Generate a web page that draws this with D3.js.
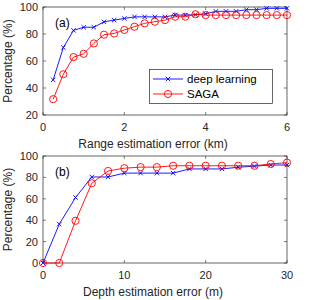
<!DOCTYPE html>
<html>
	<head>
		<meta charset="utf-8">
		<title>Range and depth estimation error</title>
	</head>
	<body>
		<svg id="chart" width="320" height="300"></svg>
	</body>

	<script src="https://d3js.org/d3.v7.min.js"></script>
	<script>
		// panel (a): range estimation error
		const rangeX = [0.25, 0.5, 0.75, 1, 1.25, 1.5, 1.75, 2, 2.25, 2.5, 2.75, 3,
			3.25, 3.5, 3.75, 4, 4.25, 4.5, 4.75, 5, 5.25, 5.5, 5.75, 6];
		const rangeDeep = [46, 70, 82.7, 85, 85, 89, 90.3, 91.5, 92.7, 92.7, 92.7, 92.7,
			94, 94, 94.3, 95, 96.8, 96.8, 96.8, 98, 98, 99, 99, 99];
		const rangeSaga = [31.7, 50.2, 62.9, 65.3, 73, 79.5, 80.4, 83, 85.4, 87.9, 89.1, 90.3,
			92.8, 92.8, 94.6, 94, 94, 94, 94, 94, 94, 94, 94, 94];

		// panel (b): depth estimation error
		const depthX = [0, 2, 4, 6, 8, 10, 12, 14, 16, 18, 20, 22, 24, 26, 28, 30];
		const depthDeep = [0, 36.3, 61.2, 80.4, 80.4, 84, 84, 84, 84, 87.9, 87.9, 87.9, 89.5, 90.5, 91.6, 91.6];
		const depthSaga = [0, 0, 39.4, 74.5, 86, 88.6, 89.6, 89.6, 90.9, 90.9, 90.9, 90.9, 90.9, 90.9, 92.5, 93.8];

		const seriesNames = ["deep learning", "SAGA"];
		const colors = ["#0000ff", "#ff0000"];

		const svg = d3.select("#chart");
		const font = "'Liberation Sans', Arial, sans-serif";

		function drawPanel(opts)
		{
			const x = d3.scaleLinear().domain(opts.xDomain).range([43, 287]);
			const y = d3.scaleLinear().domain(opts.yDomain).range([opts.bottom, opts.top]);
			const g = svg.append("g");

			// ticks (inward, on all four sides)
			const tickLen = 3;
			opts.xTicks.forEach(t => {
				g.append("line").attr("x1", x(t)).attr("x2", x(t))
					.attr("y1", opts.bottom).attr("y2", opts.bottom - tickLen)
					.attr("stroke", "#262626").attr("stroke-width", 0.6);
				g.append("line").attr("x1", x(t)).attr("x2", x(t))
					.attr("y1", opts.top).attr("y2", opts.top + tickLen)
					.attr("stroke", "#262626").attr("stroke-width", 0.6);
				g.append("text").attr("x", x(t)).attr("y", opts.bottom + 16)
					.attr("text-anchor", "middle")
					.attr("font-family", font).attr("font-size", 11)
					.attr("fill", "#262626").text(t);
			});
			opts.yTicks.forEach(t => {
				g.append("line").attr("x1", 43).attr("x2", 43 + tickLen)
					.attr("y1", y(t)).attr("y2", y(t))
					.attr("stroke", "#262626").attr("stroke-width", 0.6);
				g.append("line").attr("x1", 287).attr("x2", 287 - tickLen)
					.attr("y1", y(t)).attr("y2", y(t))
					.attr("stroke", "#262626").attr("stroke-width", 0.6);
				g.append("text").attr("x", 38).attr("y", y(t) + 4)
					.attr("text-anchor", "end")
					.attr("font-family", font).attr("font-size", 11)
					.attr("fill", "#262626").text(t);
			});

			g.append("rect")
				.attr("x", 43).attr("y", opts.top)
				.attr("width", 244).attr("height", opts.bottom - opts.top)
				.attr("fill", "none").attr("stroke", "#262626").attr("stroke-width", 0.7);

			// series
			const line = d3.line().x(d => x(d[0])).y(d => y(d[1]));
			opts.series.forEach((vals, i) => {
				const pts = opts.xs.map((v, j) => [v, vals[j]]);
				g.append("path").datum(pts)
					.attr("d", line)
					.attr("fill", "none")
					.attr("stroke", colors[i]).attr("stroke-width", 0.9);
				pts.forEach(p => drawMarker(g, i, x(p[0]), y(p[1])));
			});

			// panel label
			g.append("text").attr("x", 55).attr("y", opts.top + 20)
				.attr("font-family", font).attr("font-size", 12)
				.attr("fill", "#000").text(opts.label);

			// axis titles
			g.append("text").attr("x", 153).attr("y", opts.bottom + 33)
				.attr("text-anchor", "middle")
				.attr("font-family", font).attr("font-size", 12)
				.attr("fill", "#262626").text(opts.xTitle);
			g.append("text")
				.attr("transform", `translate(12, ${(opts.top + opts.bottom) / 2}) rotate(-90)`)
				.attr("text-anchor", "middle")
				.attr("font-family", font).attr("font-size", 12)
				.attr("fill", "#262626").text("Percentage (%)");

			return g;
		}

		function drawMarker(g, i, cx, cy)
		{
			if (i === 0)
			{
				const s = 2.2;
				g.append("path")
					.attr("d", `M${cx - s},${cy - s}L${cx + s},${cy + s}M${cx - s},${cy + s}L${cx + s},${cy - s}`)
					.attr("stroke", colors[0]).attr("stroke-width", 0.9);
			}
			else
			{
				g.append("circle").attr("cx", cx).attr("cy", cy).attr("r", 3.6)
					.attr("fill", "none")
					.attr("stroke", colors[1]).attr("stroke-width", 0.9);
			}
		}

		const ga = drawPanel({
			top: 7, bottom: 115,
			xDomain: [0, 6], yDomain: [20, 100],
			xTicks: [0, 2, 4, 6], yTicks: [20, 40, 60, 80, 100],
			xs: rangeX, series: [rangeDeep, rangeSaga],
			label: "(a)", xTitle: "Range estimation error (km)"
		});

		drawPanel({
			top: 156, bottom: 263,
			xDomain: [0, 30], yDomain: [0, 100],
			xTicks: [0, 10, 20, 30], yTicks: [0, 20, 40, 60, 80, 100],
			xs: depthX, series: [depthDeep, depthSaga],
			label: "(b)", xTitle: "Depth estimation error (m)"
		});

		// legend in panel (a)
		const leg = ga.append("g");
		leg.append("rect")
			.attr("x", 149.5).attr("y", 69.5).attr("width", 123).attr("height", 34)
			.attr("fill", "#fff").attr("stroke", "#262626").attr("stroke-width", 0.7);
		seriesNames.forEach((name, i) => {
			const ly = 79 + i * 15;
			leg.append("line").attr("x1", 153).attr("x2", 183)
				.attr("y1", ly).attr("y2", ly)
				.attr("stroke", colors[i]).attr("stroke-width", 0.9);
			drawMarker(leg, i, 168, ly);
			leg.append("text").attr("x", 187).attr("y", ly + 4)
				.attr("font-family", font).attr("font-size", 11.5)
				.attr("fill", "#000").text(name);
		});
	</script>

	<style>
		html, body
		{
			margin: 0;
			background: #fff;
		}
		svg
		{
			display: block;
		}
	</style>
</html>
